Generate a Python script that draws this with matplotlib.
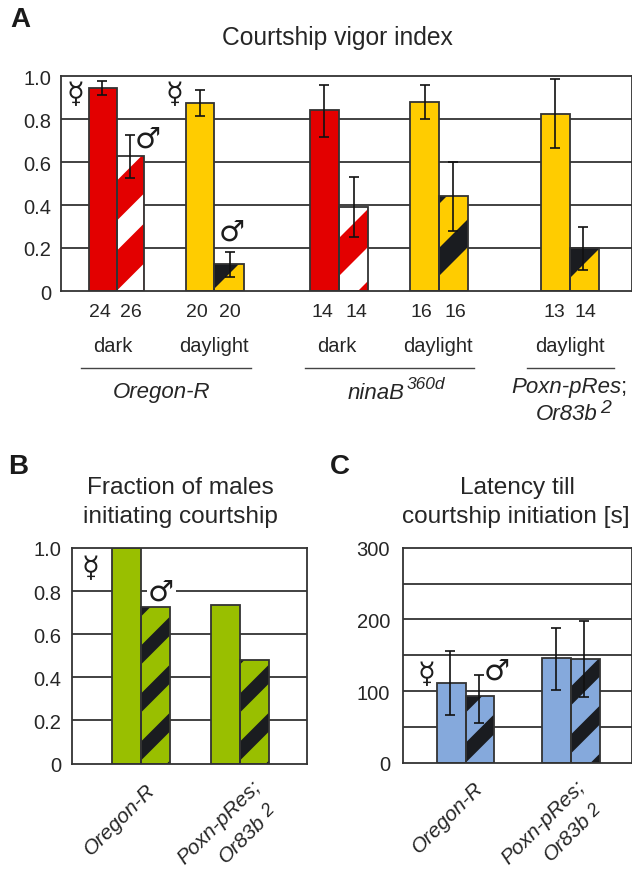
import matplotlib
matplotlib.use("Agg")
import matplotlib.pyplot as plt
from matplotlib.patches import Polygon, Rectangle

W, H = 632, 870
plt.rcParams['font.family'] = ['Liberation Sans', 'DejaVu Sans']
TXT = '#262626'
LINE = '#333333'
RED, YEL, GRN, BLU, DRK = '#E30000', '#FFCC00', '#99BF00', '#85A9DC', '#1A1C20'

# ---------- data ----------
a_female = [0.945, 0.875, 0.84, 0.88, 0.825]
a_male = [0.63, 0.125, 0.39, 0.44, 0.20]
a_female_low = [0.913, 0.815, 0.718, 0.80, 0.667]
a_female_high = [0.977, 0.936, 0.958, 0.958, 0.986]
a_male_low = [0.527, 0.064, 0.25, 0.278, 0.098]
a_male_high = [0.726, 0.183, 0.53, 0.60, 0.297]
a_n_female = ['24', '20', '14', '16', '13']
a_n_male = ['26', '20', '14', '16', '14']
a_yticks = [0, 0.2, 0.4, 0.6, 0.8, 1.0]
a_ylabels = ['0', '0.2', '0.4', '0.6', '0.8', '1.0']

b_female = [1.0, 0.735]
b_male = [0.725, 0.478]

c_female = [111, 146]
c_male = [93, 145]
c_female_low = [66, 102]
c_female_high = [156, 188]
c_male_low = [56, 91]
c_male_high = [122, 198]
c_yticks = [0, 100, 200, 300]
c_grid = [50, 100, 150, 200, 250]

# ---------- layout (pixels) ----------
fig = plt.figure(figsize=(W / 100, H / 100), dpi=100)


def make_axes(l, r, t, b, ymax, pad):
    ax = fig.add_axes([l / W, 1 - b / H, (r - l) / W, (b - t) / H])
    ax.set_xlim(l, r)
    ax.set_ylim(0, ymax)
    ax.set_xticks([])
    for s in ax.spines.values():
        s.set_color(LINE)
        s.set_linewidth(1.3)
        s.set_zorder(6)
    ax.tick_params(axis='y', length=0, pad=pad, labelsize=14.5, labelcolor=TXT)
    return ax


def ftext(x, y, s, **kw):
    kw.setdefault('ha', 'center')
    kw.setdefault('va', 'center')
    kw.setdefault('color', TXT)
    kw.setdefault('fontsize', 14)
    return fig.text(x / W, 1 - y / H, s, **kw)


def draw_bar(ax, left, right, val, color, stripes=None, px=None):
    """stripes = (stripe colour, offset px, stripe width px, period px)"""
    bars = ax.bar(left, val, width=right - left, align='edge', color=color,
                  edgecolor='none', zorder=3)
    rect = bars[0]
    if stripes:
        col, d0, w, period = stripes
        span = right - left
        hpx = val / px
        d = d0 - 6 * period
        while d < hpx + span:
            pts = [(left, d * px), (left, (d + w) * px),
                   (right, (d + w + span) * px), (right, (d + span) * px)]
            p = Polygon(pts, closed=True, facecolor=col, edgecolor='none', zorder=3.5)
            ax.add_patch(p)
            p.set_clip_path(rect)
            d += period
    ax.add_patch(Rectangle((left, 0), right - left, val, fill=False,
                           edgecolor=LINE, linewidth=1.3, zorder=4))


def err(ax, x, val, low, high):
    ax.errorbar([x], [val], yerr=[[val - low], [high - val]], fmt='none',
                ecolor='#111111', elinewidth=1.2, capsize=3.6, capthick=1.2, zorder=5)


def sym(x, y, s, size):
    return ftext(x, y, s, fontsize=size, family='DejaVu Sans', color='#1c1c1c', zorder=8)


SIZE_F, SIZE_M = 21, 21
ITAL = 16
ROT = 15

# ---------- panel A ----------
axA = make_axes(60.5, 631.5, 77, 292, 1.0, 6.8)
axA.set_yticks(a_yticks, a_ylabels)
for v in a_yticks[1:-1]:
    axA.axhline(v, color=LINE, lw=1.3, zorder=1)
pxA = 1.0 / 215
a_edges = [(88.5, 116.5, 143.5), (185.5, 214, 243.5), (310, 339, 368), (409.5, 439, 468), (541, 570, 599)]
a_colors = [RED, YEL, RED, YEL, YEL]
a_stripes = [('white', -30, 30, 70), (DRK, 2, 30, 72), ('white', -19, 34, 72), (DRK, 15, 28, 72), (DRK, 13, 30, 72)]
a_err_x = [(102, 130), (199.5, 230), (324, 353.7), (425, 453), (555, 583)]
a_n_x = [(100, 131), (197, 230), (322, 356), (421, 455), (554, 585)]
for i in range(5):
    l, m, r = a_edges[i]
    draw_bar(axA, l, m, a_female[i], a_colors[i])
    draw_bar(axA, m, r, a_male[i], a_colors[i], a_stripes[i], pxA)
    err(axA, a_err_x[i][0], a_female[i], a_female_low[i], a_female_high[i])
    err(axA, a_err_x[i][1], a_male[i], a_male_low[i], a_male_high[i])
    ftext(a_n_x[i][0], 312.5, a_n_female[i])
    ftext(a_n_x[i][1], 312.5, a_n_male[i])

for x, s in [(113, 'dark'), (214, 'daylight'), (337, 'dark'), (438, 'daylight'), (570, 'daylight')]:
    ftext(x, 347, s, fontsize=14.5)
for x0, x1 in [(81, 251), (305, 474), (527, 614)]:
    fig.add_artist(plt.Line2D([x0 / W, x1 / W], [1 - 369 / H] * 2, color='#444444', lw=1.0))
ftext(162, 393, 'Oregon-R', style='italic', fontsize=ITAL)
ftext(376, 393.5, 'ninaB', style='italic', fontsize=ITAL)
ftext(426, 385, '360d', style='italic', fontsize=12.5)
ftext(566, 388, 'Poxn-pRes', style='italic', fontsize=ITAL)
ftext(624, 388, ';', fontsize=ITAL)
ftext(567, 415, 'Or83b', style='italic', fontsize=ITAL)
ftext(606, 409, '2', style='italic', fontsize=14)

ftext(337, 38.5, 'Courtship vigor index', fontsize=17.7)
ftext(20.5, 20, 'A', fontsize=20, fontweight='bold', color='#1a1a1a')
ftext(18.5, 467, 'B', fontsize=20, fontweight='bold', color='#1a1a1a')
ftext(340, 467, 'C', fontsize=20, fontweight='bold', color='#1a1a1a')
sym(75.5, 95, '☿', SIZE_F)
sym(174.5, 95, '☿', SIZE_F)
sym(148, 140, '♂', SIZE_M)
sym(232, 233, '♂', SIZE_M)

# ---------- panel B ----------
axB = make_axes(72, 306.5, 549, 764.5, 1.0, 8)
axB.set_yticks(a_yticks, a_ylabels)
for v in a_yticks[1:-2]:
    axB.axhline(v, color=LINE, lw=1.3, zorder=1)
axB.hlines([a_yticks[-2]] * 2, [72, 176], [147, 306.5], color=LINE, lw=1.3, zorder=1)
pxB = 1.0 / 215.5
b_edges = [(112, 141, 169.5), (211, 240, 269)]
for i in range(2):
    l, m, r = b_edges[i]
    draw_bar(axB, l, m, b_female[i], GRN)
    draw_bar(axB, m, r, b_male[i], GRN, (DRK, 3, 19, 48), pxB)
ftext(180, 488, 'Fraction of males', fontsize=17.6)
ftext(180, 517, 'initiating courtship', fontsize=17.6)
sym(90, 569, '☿', SIZE_F)
sym(161, 593, '♂', SIZE_M)
ftext(120, 820, 'Oregon-R', style='italic', fontsize=ROT, rotation=45)
ftext(219, 823, 'Poxn-pRes;', style='italic', fontsize=ROT, rotation=45)
ftext(243, 840, 'Or83b', style='italic', fontsize=ROT, rotation=45)
ftext(268, 811, '2', style='italic', fontsize=13, rotation=45)

# ---------- panel C ----------
axC = make_axes(402.7, 631.5, 548.7, 763.7, 300, 9)
axC.set_yticks(c_yticks, [str(v) for v in c_yticks])
for v in c_grid:
    axC.axhline(v, color=LINE, lw=1.3, zorder=1)
pxC = 300 / 215.0
c_edges = [(436.7, 465.7, 494.3), (541.7, 570.7, 600)]
c_stripes = [(DRK, 0, 20, 50), (DRK, 9, 19, 48)]
c_err_x = [(450.3, 479.3), (555.7, 584)]
for i in range(2):
    l, m, r = c_edges[i]
    draw_bar(axC, l, m, c_female[i], BLU)
    draw_bar(axC, m, r, c_male[i], BLU, c_stripes[i], pxC)
    err(axC, c_err_x[i][0], c_female[i], c_female_low[i], c_female_high[i])
    err(axC, c_err_x[i][1], c_male[i], c_male_low[i], c_male_high[i])
ftext(517, 488, 'Latency till', fontsize=17.6)
ftext(516, 517, 'courtship initiation [s]', fontsize=17.6)
sym(426, 675, '☿', SIZE_F)
sym(497, 672, '♂', SIZE_M)
ftext(448, 818, 'Oregon-R', style='italic', fontsize=ROT, rotation=45)
ftext(543, 823, 'Poxn-pRes;', style='italic', fontsize=ROT, rotation=45)
ftext(568, 838, 'Or83b', style='italic', fontsize=ROT, rotation=45)
ftext(594, 811, '2', style='italic', fontsize=13, rotation=45)

fig.savefig('out.png', dpi=100)
